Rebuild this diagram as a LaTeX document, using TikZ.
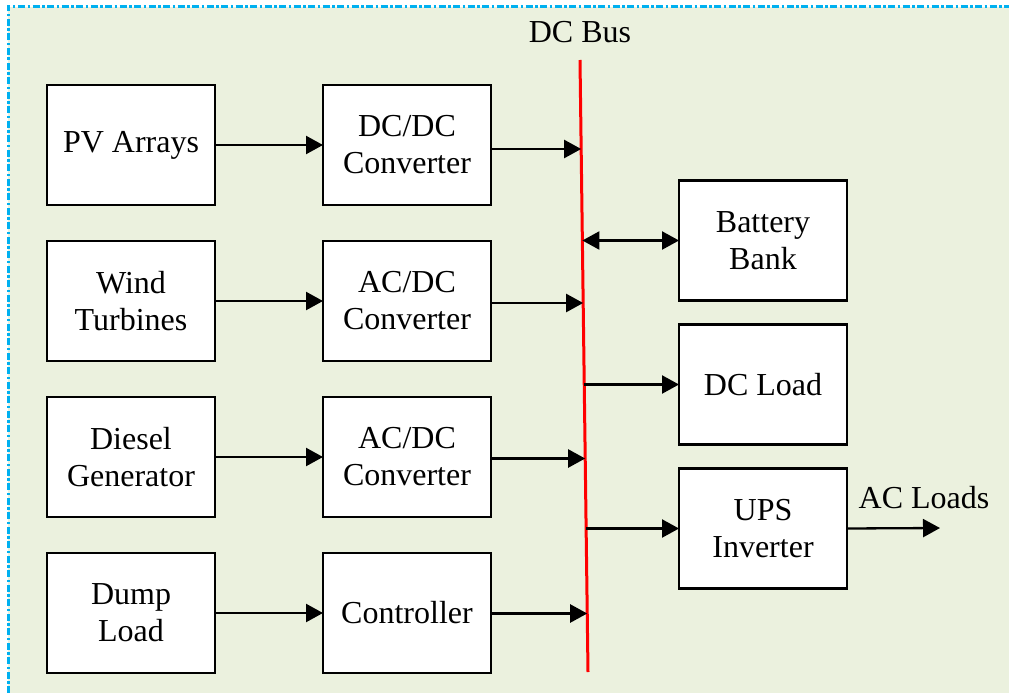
\documentclass[tikz,border=0pt]{standalone}
\usepackage{fontspec}
\setmainfont{Liberation Serif}
\usepackage{tikz}
\usetikzlibrary{arrows.meta, positioning, calc}

\definecolor{panelgreen}{RGB}{235,241,222}
\definecolor{framecyan}{RGB}{0,176,240}

\begin{document}
\begin{tikzpicture}[
x=1pt, y=-1pt,
block/.style={rectangle, draw, line width=2.4pt, fill=white, align=center,
  minimum width=168pt, minimum height=120pt, inner sep=0pt, outer sep=0pt,
  font=\fontsize{32}{37}\selectfont},
label_text/.style={font=\fontsize{32}{37}\selectfont},
flow/.style={line width=2.3pt, -{Triangle[length=17pt, width=18pt]}},
both/.style={line width=2.3pt, {Triangle[length=17pt, width=18pt]}-{Triangle[length=17pt, width=18pt]}}
]
\useasboundingbox (0,0) rectangle (1009,693);
% Panel
\fill[panelgreen] (8,7) rectangle (1009,693);
\draw[framecyan, line width=3pt, dash pattern=on 7pt off 2.5pt on 2.5pt off 2.5pt]
  (8,693) -- (8,7) -- (1009,7);

% Sources
\node[block] (pv) at (131,145) {PV Arrays};
\node[block] (wind) [below=36pt of pv] {Wind\\Turbines};
\node[block] (diesel) [below=36pt of wind] {Diesel\\Generator};
\node[block] (dump) [below=36pt of diesel] {Dump\\Load};

% Converters
\node[block] (dcdc) [right=108pt of pv] {DC/DC\\Converter};
\node[block] (acdc1) [right=108pt of wind] {AC/DC\\Converter};
\node[block] (acdc2) [right=108pt of diesel] {AC/DC\\Converter};
\node[block] (ctrl) [right=108pt of dump] {Controller};

% DC bus
\coordinate (bustop) at (580,60);
\coordinate (busbot) at (588,672);
\draw[red, line width=3pt] (bustop) -- (busbot);
\node[label_text] (buslabel) at (580,32) {DC Bus};

% Storage and loads
\node[block] (batt) at (763,240.5) {Battery\\Bank};
\node[block] (dcload) [below=24pt of batt] {DC Load};
\node[block] (ups) [below=24pt of dcload] {UPS\\Inverter};
\coordinate (acout) at (940,528);
\node[label_text] (aclabel) at (924,498) {AC Loads};

% Edges
\draw[flow] (pv) -- (dcdc);
\draw[flow] (wind) -- (acdc1);
\draw[flow] (diesel) -- (acdc2);
\draw[flow] (dump) -- (ctrl);
\foreach \src/\dy in {dcdc/-4, acdc1/-2, acdc2/-1.5, ctrl/-0.5} {
  \path ([yshift=\dy pt]\src.east) coordinate (s)
        ($(bustop)!(s)!(busbot)$) coordinate (p);
  \draw[flow] (s) -- (s -| p);
}
\foreach \dst in {dcload, ups} {
  \path (\dst.west) coordinate (d)
        ($(bustop)!(d)!(busbot)$) coordinate (p);
  \draw[flow] (d -| p) -- (d);
}
\path (batt.west) coordinate (d) ($(bustop)!(d)!(busbot)$) coordinate (p);
\draw[both] (d -| p) -- (d);
\draw[flow] (ups.east) -- (acout);
\end{tikzpicture}
\end{document}
